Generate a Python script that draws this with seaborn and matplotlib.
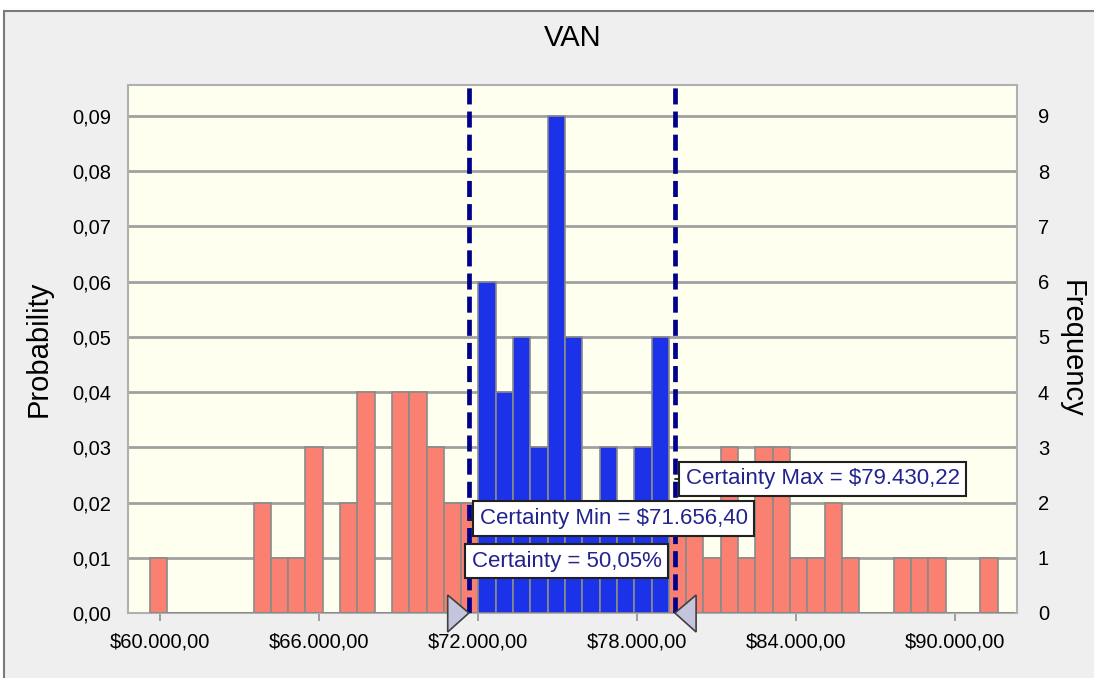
import numpy as np
import pandas as pd
import seaborn as sns
import matplotlib
matplotlib.use("Agg")
from matplotlib import pyplot as plt
from matplotlib.patches import Rectangle, Polygon
from matplotlib.ticker import FuncFormatter, MultipleLocator
import matplotlib.transforms as mtransforms

# histogram data (counts per bin, 100 trials)
bin_start = 59611.0
bin_width = 653.0
counts = [1, 0, 0, 0, 0, 0, 2, 1, 1, 3,
          0, 2, 4, 0, 4, 4, 3, 2, 2, 6,
          4, 5, 3, 9, 5, 2, 3, 2, 3, 5,
          2, 2, 1, 3, 1, 3, 3, 1, 1, 2,
          1, 0, 0, 1, 1, 1, 0, 0, 1, 0]
n_trials = 100
cert_min = 71656.40
cert_max = 79430.22
cert_pct = 50.05
title = "VAN"
x_ticks = [60000, 66000, 72000, 78000, 84000, 90000]

edges = bin_start + bin_width * np.arange(len(counts) + 1)
df = pd.DataFrame({
    'value': (edges[:-1] + edges[1:]) / 2,
    'prob': np.array(counts) / n_trials,
    'inside': (edges[:-1] >= cert_min) & (edges[1:] <= cert_max),
})

sns.set_theme(style="white")
plt.rcParams['font.family'] = ['Liberation Sans Narrow', 'Liberation Sans', 'DejaVu Sans']
plt.rcParams['text.color'] = 'black'
plt.rcParams['axes.labelcolor'] = 'black'

fig = plt.figure(figsize=(10.94, 6.78), dpi=100, facecolor="white")
# grey panel behind the chart
fig.patches.append(Rectangle((4 / 1094, -0.02), 1.02, 1 - 11 / 678 + 0.02,
                             transform=fig.transFigure, facecolor="#EFEFEF",
                             edgecolor="#7A7A7A", lw=1.5, zorder=-5))

ax = fig.add_axes([128 / 1094, 65 / 678, 889 / 1094, 528 / 678])
ax.set_zorder(1)
ax.set_facecolor("#FFFFF0")

red = "#FA8072"
blue = "#1C32E8"
for flag, col in [(False, red), (True, blue)]:
    sns.histplot(data=df[df['inside'] == flag], x='value', weights='prob',
                 bins=edges.tolist(), color=col, alpha=1, edgecolor="#8A8A8A",
                 linewidth=1.2, ax=ax, zorder=3)

ax.set_xlim(58792, 92340)
ax.set_ylim(0, 0.0956)
ax.yaxis.set_major_locator(MultipleLocator(0.01))
ax.yaxis.set_major_formatter(FuncFormatter(lambda v, p: f"{v:.2f}".replace('.', ',')))
ax.set_xticks(x_ticks)
ax.xaxis.set_major_formatter(FuncFormatter(
    lambda v, p: "$" + f"{v:,.2f}".replace(',', 'X').replace('.', ',').replace('X', '.')))
ax.grid(axis='y', color="#A0A0A0", lw=2.0, zorder=1)
ax.set_axisbelow(True)
for s in ax.spines.values():
    s.set_color("#B0B0B0")
    s.set_linewidth(1.5)
ax.tick_params(axis='x', length=6, width=1.2, color="#909090", labelsize=14.5,
               labelcolor='black', pad=8, bottom=True)
ax.tick_params(axis='y', length=0, labelsize=14.5, labelcolor='black', pad=12)
ax.set_xlabel("")
ax.set_ylabel("Probability", fontsize=21, labelpad=14)

ax2 = ax.twinx()
ax2.set_ylim(0, 0.0956 * n_trials)
ax2.yaxis.set_major_locator(MultipleLocator(1))
ax2.tick_params(axis='y', length=0, labelsize=14.5, labelcolor='black', pad=15)
ax2.set_ylabel("Frequency", fontsize=21, rotation=-90, labelpad=26)
ax2.patch.set_visible(False)
for s in ax2.spines.values():
    s.set_visible(False)

# certainty lines
for v in (cert_min, cert_max):
    ax.axvline(v, ymin=0, ymax=1, color="#00008B", lw=3.4,
               ls=(0, (3.4, 1.5)), zorder=5)

txt_col = "#23238E"
box = dict(boxstyle="square,pad=0.3", fc="white", ec="#202020", lw=1.5)
ax.text(cert_max + 410, 0.0243, "Certainty Max = $79.430,22", color=txt_col,
        fontsize=16, va='center', ha='left', bbox=box, zorder=7)
ax.plot([cert_max, cert_max + 410], [0.0243, 0.0243], color="#202020", lw=1.3, zorder=6)
ax.text(cert_min + 410, 0.0171, "Certainty Min = $71.656,40", color=txt_col,
        fontsize=16, va='center', ha='left', bbox=box, zorder=7)
ax.plot([cert_min, cert_min + 410], [0.0171, 0.0171], color="#202020", lw=1.3, zorder=6)
ax.text(cert_min + 110, 0.0094, f"Certainty = {cert_pct:.2f}%".replace('.', ','),
        color=txt_col, fontsize=16, va='center', ha='left', bbox=box, zorder=7)

# slider grabbers
trans = mtransforms.blended_transform_factory(ax.transData, ax.transAxes)
tri_w = 800
ax.add_patch(Polygon([(cert_min - tri_w, 0.034), (cert_min - tri_w, -0.036), (cert_min, 0)],
                     closed=True, transform=trans, fc="#C4C4DC", ec="#404040",
                     lw=1.2, clip_on=False, zorder=8))
ax.add_patch(Polygon([(cert_max + tri_w, 0.034), (cert_max + tri_w, -0.036), (cert_max, 0)],
                     closed=True, transform=trans, fc="#C4C4DC", ec="#404040",
                     lw=1.2, clip_on=False, zorder=8))

fig.text(573 / 1094, 1 - 38 / 678, title, ha='center', va='center', fontsize=21)

fig.savefig("out.png", dpi=100, facecolor=fig.get_facecolor())
